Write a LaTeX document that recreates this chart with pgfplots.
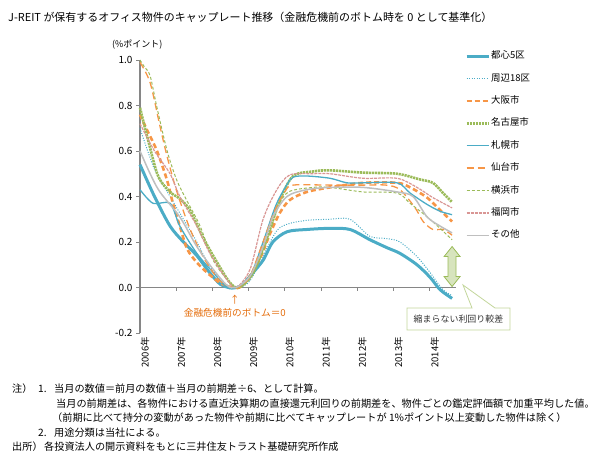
\documentclass[border=0pt]{standalone}
\usepackage{pgfplots}
\pgfplotsset{compat=1.18}
\usepackage{fontspec}
\setmainfont{Noto Sans CJK JP}
\definecolor{aq}{HTML}{4BACC6}
\definecolor{org}{HTML}{F79646}
\definecolor{grn}{HTML}{9BBB59}
\definecolor{pnk}{HTML}{D99694}
\definecolor{gry}{HTML}{BFBFBF}
\definecolor{axg}{HTML}{868686}
\definecolor{ann}{HTML}{E46C0A}
\definecolor{arrf}{HTML}{D7E4BD}
\definecolor{callb}{HTML}{C3D69B}
\begin{document}
\begin{tikzpicture}
\begin{scope}[x=1bp,y=1bp]
\useasboundingbox (0,0) rectangle (616,469);
\node[anchor=west, inner sep=0pt, font=\fontsize{11}{11}\selectfont] at (8,452) {J-REIT が保有するオフィス物件のキャップレート推移（金融危機前のボトム時を 0 として基準化）};
\node[anchor=west, inner sep=0pt, font=\fontsize{9}{9}\selectfont] at (112,424) {(\%ポイント)};
\end{scope}
\begin{axis}[
  at={(140bp,136bp)}, anchor=south west, scale only axis,
  width=315.7bp, height=273bp,
  xmin=2006, xmax=2014.72, ymin=-0.2, ymax=1.0,
  clip=false,
  axis x line=bottom, axis y line=left,
  axis line style={-},
  x axis line style={draw=none},
  y axis line style={draw=axg, line width=1.6bp},
  xtick={2006,2007,2008,2009,2010,2011,2012,2013,2014},
  xticklabels={2006年,2007年,2008年,2009年,2010年,2011年,2012年,2013年,2014年},
  xtick style={draw=none},
  xticklabel style={rotate=90, anchor=east, inner sep=0pt, font=\fontsize{9.5}{9.5}\selectfont, yshift=-5bp},
  ytick={-0.2,0,0.2,0.4,0.6,0.8,1.0},
  ytick style={draw=axg, line width=0.8bp},
  tick align=outside, major tick length=4bp,
  yticklabel style={font=\fontsize{10}{10}\selectfont, /pgf/number format/.cd, fixed, fixed zerofill, precision=1, assume math mode=true},
  legend style={at={(1.029,1.035)}, anchor=north west, draw=none, fill=none,
    font=\fontsize{9.5}{9.5}\selectfont, row sep=11.4bp, inner sep=0pt,
    nodes={inner sep=1bp, text height=7bp, text depth=2bp, anchor=west}},
  legend image code/.code={\draw[#1] (0bp,0bp) -- (22bp,0bp);},
  legend cell align=left,
]
\draw[axg, line width=0.8bp] (axis cs:2006,0) -- (axis cs:2014.72,0);
\pgfplotsinvokeforeach{2006,2007,2008,2009,2010,2011,2012,2013,2014}{\draw[axg, line width=0.8bp] (axis cs:#1,0) -- ++(0bp,-4bp);}

\addplot[aq, line width=3bp, smooth, tension=0.5] coordinates {
(2006.00,0.54) (2006.40,0.40) (2006.83,0.27) (2007.20,0.20) (2007.57,0.14) (2007.90,0.07) (2008.21,0.015) (2008.45,0.0) (2008.68,0.0) (2008.85,0.015) (2009.04,0.05) (2009.40,0.12) (2009.67,0.20) (2010.06,0.245) (2010.61,0.255) (2011.25,0.26) (2011.80,0.255) (2012.35,0.21) (2012.82,0.175) (2013.18,0.15) (2013.65,0.10) (2014.01,0.045) (2014.29,-0.01) (2014.62,-0.048)};
\addlegendentry{都心5区}

\addplot[aq, line width=1bp, dash pattern=on 1bp off 1.5bp, smooth, tension=0.5] coordinates {
(2006.00,0.70) (2006.40,0.52) (2006.83,0.40) (2007.20,0.30) (2007.57,0.20) (2007.90,0.10) (2008.21,0.04) (2008.50,0.0) (2008.75,0.0) (2009.04,0.03) (2009.40,0.14) (2009.78,0.25) (2010.10,0.28) (2010.60,0.295) (2011.25,0.30) (2011.80,0.30) (2012.35,0.225) (2012.82,0.215) (2013.18,0.20) (2013.65,0.136) (2014.01,0.066) (2014.37,-0.01) (2014.62,-0.035)};
\addlegendentry{周辺18区}

\addplot[org, line width=2.6bp, dash pattern=on 5bp off 3bp, smooth, tension=0.5] coordinates {
(2006.00,0.76) (2006.20,0.69) (2006.47,0.60) (2006.75,0.47) (2006.91,0.37) (2007.10,0.27) (2007.30,0.17) (2007.57,0.11) (2007.85,0.066) (2008.21,0.02) (2008.55,0.0) (2008.75,0.0) (2009.04,0.05) (2009.35,0.14) (2009.60,0.24) (2009.87,0.33) (2010.14,0.385) (2010.61,0.42) (2011.25,0.44) (2012.16,0.46) (2013.10,0.46) (2013.46,0.44) (2013.93,0.395) (2014.29,0.34) (2014.62,0.29)};
\addlegendentry{大阪市}

\addplot[grn, line width=2.6bp, dash pattern=on 2.2bp off 0.8bp, smooth, tension=0.5] coordinates {
(2006.00,0.79) (2006.22,0.65) (2006.50,0.49) (2006.83,0.42) (2007.10,0.39) (2007.38,0.34) (2007.74,0.22) (2008.13,0.11) (2008.49,0.02) (2008.75,0.0) (2009.12,0.066) (2009.51,0.22) (2009.87,0.385) (2010.23,0.49) (2010.78,0.51) (2011.25,0.515) (2012.16,0.505) (2013.10,0.50) (2013.73,0.475) (2014.09,0.46) (2014.37,0.415) (2014.62,0.375)};
\addlegendentry{名古屋市}

\addplot[aq, line width=1.3bp, smooth, tension=0.5] coordinates {
(2006.00,0.43) (2006.36,0.37) (2006.83,0.37) (2007.10,0.27) (2007.57,0.15) (2008.02,0.066) (2008.40,0.0) (2008.65,0.0) (2009.04,0.05) (2009.40,0.20) (2009.75,0.36) (2010.05,0.45) (2010.23,0.485) (2010.61,0.49) (2011.25,0.48) (2011.72,0.46) (2012.16,0.46) (2013.10,0.46) (2013.46,0.415) (2013.93,0.365) (2014.29,0.335) (2014.62,0.32)};
\addlegendentry{札幌市}

\addplot[org, line width=1.3bp, dash pattern=on 7bp off 4bp, smooth, tension=0.5] coordinates {
(2006.00,0.99) (2006.28,0.90) (2006.55,0.71) (2006.75,0.575) (2007.02,0.42) (2007.40,0.25) (2007.80,0.12) (2008.20,0.03) (2008.55,0.0) (2008.75,0.0) (2009.04,0.05) (2009.40,0.20) (2009.70,0.33) (2010.00,0.42) (2010.23,0.45) (2011.25,0.45) (2012.16,0.45) (2012.80,0.45) (2013.18,0.43) (2013.60,0.35) (2013.82,0.29) (2014.09,0.255) (2014.37,0.255) (2014.62,0.23)};
\addlegendentry{仙台市}

\addplot[grn, line width=1bp, dash pattern=on 3bp off 2bp, smooth, tension=0.5] coordinates {
(2006.00,1.00) (2006.12,0.97) (2006.28,0.93) (2006.47,0.79) (2006.75,0.60) (2007.02,0.47) (2007.30,0.38) (2007.66,0.27) (2008.02,0.12) (2008.49,0.02) (2008.75,0.0) (2009.10,0.05) (2009.50,0.20) (2009.80,0.35) (2010.10,0.42) (2010.78,0.44) (2011.25,0.44) (2012.16,0.42) (2013.10,0.415) (2013.46,0.37) (2014.01,0.30) (2014.62,0.21)};
\addlegendentry{横浜市}

\addplot[pnk, line width=1.2bp, dash pattern=on 3bp off 1bp, smooth, tension=0.5] coordinates {
(2006.00,0.72) (2006.40,0.60) (2006.83,0.50) (2007.10,0.40) (2007.57,0.27) (2007.93,0.15) (2008.40,0.035) (2008.65,0.0) (2009.04,0.08) (2009.40,0.30) (2009.78,0.43) (2010.14,0.495) (2010.78,0.50) (2011.25,0.50) (2012.16,0.48) (2013.10,0.48) (2013.65,0.44) (2014.09,0.395) (2014.62,0.35)};
\addlegendentry{福岡市}

\addplot[gry, line width=1.5bp, smooth, tension=0.5] coordinates {
(2006.00,0.60) (2006.28,0.50) (2006.55,0.42) (2007.10,0.31) (2007.57,0.18) (2008.02,0.08) (2008.40,0.01) (2008.65,0.0) (2009.04,0.05) (2009.40,0.18) (2009.67,0.31) (2010.06,0.40) (2010.61,0.43) (2011.25,0.44) (2012.16,0.44) (2013.10,0.42) (2013.54,0.40) (2013.93,0.31) (2014.29,0.27) (2014.62,0.24)};
\addlegendentry{その他}

\node[text=ann, inner sep=0pt, font=\fontsize{10}{10}\selectfont] at (axis cs:2008.62,-0.055) {↑};
\node[text=ann, inner sep=0pt, font=\fontsize{9.7}{9.7}\selectfont] at (axis cs:2008.62,-0.11) {金融危機前のボトム＝0};
\draw[grn, fill=arrf, line width=0.8bp] (axis cs:2014.62,0.18) -- ++(-8bp,-10bp) -- ++(4bp,0bp) -- ++(0bp,-20bp) -- ++(-4bp,0bp) -- ++(8bp,-10bp) -- ++(8bp,10bp) -- ++(-4bp,0bp) -- ++(0bp,20bp) -- ++(4bp,0bp) -- cycle;
\end{axis}
\begin{scope}[x=1bp,y=1bp]
\draw[callb, fill=white, line width=0.8bp] (407,161) -- (472,161) -- (463,184) -- (495,161) -- (510,161) -- (510,139) -- (407,139) -- cycle;
\node[inner sep=0pt, text=black!80, font=\fontsize{9}{9}\selectfont] at (458.5,150) {縮まらない利回り較差};
\begin{scope}[every node/.style={anchor=west, inner sep=0pt, font=\fontsize{10.2}{10.2}\selectfont}]
\node at (12,80) {注）};
\node at (38,80) {1.};
\node at (54,80) {当月の数値＝前月の数値＋当月の前期差÷6、として計算。};
\node at (56,65.5) {当月の前期差は、各物件における直近決算期の直接還元利回りの前期差を、物件ごとの鑑定評価額で加重平均した値。};
\node at (52,51) {（前期に比べて持分の変動があった物件や前期に比べてキャップレートが 1\%ポイント以上変動した物件は除く）};
\node at (38,36.5) {2.};
\node at (54,36.5) {用途分類は当社による。};
\node at (12,22) {出所）};
\node at (44,22) {各投資法人の開示資料をもとに三井住友トラスト基礎研究所作成};
\end{scope}
\end{scope}
\end{tikzpicture}
\end{document}
